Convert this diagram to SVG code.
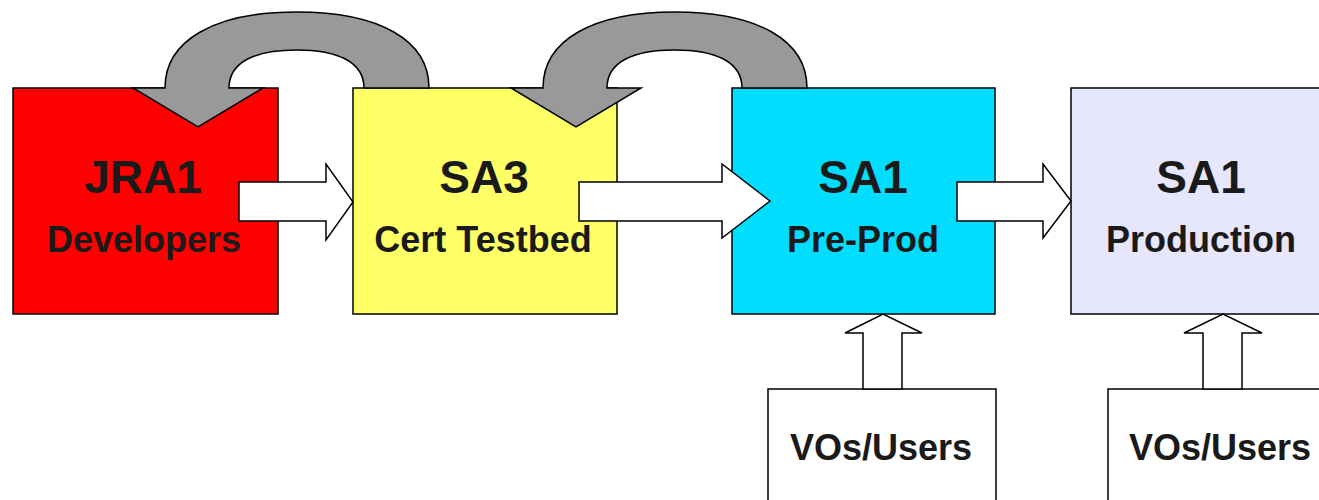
<svg xmlns="http://www.w3.org/2000/svg" width="1319" height="500" viewBox="0 0 1319 500">
<style>
.box{stroke:#000;stroke-width:1.5}
.t1{font-family:"Liberation Sans",Arial,sans-serif;font-weight:bold;font-size:46px;fill:#1a1a1a;text-anchor:middle}
.t2{font-family:"Liberation Sans",Arial,sans-serif;font-weight:bold;font-size:36px;fill:#1a1a1a;text-anchor:middle}
.blk{fill:#fff;stroke:#000;stroke-width:1.5;stroke-linejoin:miter}
.loop{fill:#999;stroke:#000;stroke-width:1.5;stroke-linejoin:miter}
</style>
<defs>
<path id="loopArrow" d="M429,88 C429,40 379,12 297,12 C215,12 165,40 165,88 L133,88 L198,127 L263,88 L229,88 C229,62 255,50 296.5,50 C338,50 364,62 364,88 Z"/>
</defs>
<rect width="1319" height="500" fill="#fff"/>
<g id="jra1">
<rect class="box" x="13" y="88" width="265" height="226" fill="#ff0000"/>
<text class="t1" x="143" y="193">JRA1</text>
<text class="t2" x="144" y="252">Developers</text>
</g>
<g id="sa3">
<rect class="box" x="353" y="88" width="264" height="226" fill="#ffff66"/>
<text class="t1" x="484" y="193">SA3</text>
<text class="t2" x="483" y="252">Cert Testbed</text>
</g>
<g id="sa1-preprod">
<rect class="box" x="732" y="88" width="263" height="226" fill="#00ddff"/>
<text class="t1" x="863" y="193">SA1</text>
<text class="t2" x="863" y="252">Pre-Prod</text>
</g>
<g id="sa1-production">
<rect class="box" x="1071" y="88" width="265" height="226" fill="#e6e6fc"/>
<text class="t1" x="1201" y="193">SA1</text>
<text class="t2" x="1201" y="252">Production</text>
</g>
<g id="vos-users-1">
<rect class="box" x="768" y="389" width="228" height="130" fill="#fff"/>
<text class="t2" x="881" y="460">VOs/Users</text>
</g>
<g id="vos-users-2">
<rect class="box" x="1108" y="389" width="228" height="130" fill="#fff"/>
<text class="t2" x="1220" y="460">VOs/Users</text>
</g>
<g id="connectors">
<use href="#loopArrow" class="loop"/>
<use href="#loopArrow" class="loop" transform="translate(378,0)"/>
<path class="blk" d="M239,182 L326,182 L326,164 L353,202 L326,240 L326,221 L239,221 Z"/>
<path class="blk" d="M579,182 L722,182 L722,164 L770,201 L722,238 L722,221 L579,221 Z"/>
<path class="blk" d="M957,182 L1043,182 L1043,164 L1071,201 L1043,238 L1043,221 L957,221 Z"/>
<path class="blk" d="M863,389 L863,333 L845,333 L883,314 L922,333 L902,333 L902,389 Z"/>
<path class="blk" d="M1203,389 L1203,333 L1184,333 L1223,314 L1262,333 L1242,333 L1242,389 Z"/>
</g>
</svg>
